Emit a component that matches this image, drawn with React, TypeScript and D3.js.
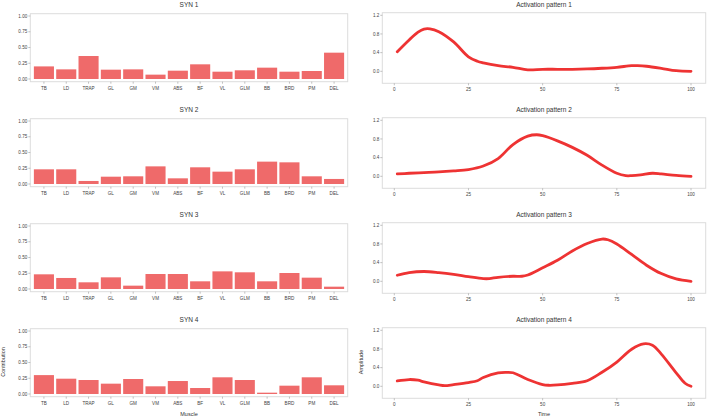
import React from "react";
import * as d3 from "d3";

const muscles = ["TB", "LD", "TRAP", "GL", "GM", "VM", "ABS", "BF", "VL", "GLM", "BB", "BRD", "PM", "DEL"];

const syn1 = [0.2, 0.153, 0.365, 0.148, 0.153, 0.069, 0.132, 0.233, 0.116, 0.138, 0.18, 0.116, 0.127, 0.418];
const syn2 = [0.233, 0.233, 0.048, 0.116, 0.122, 0.28, 0.09, 0.265, 0.196, 0.233, 0.355, 0.344, 0.122, 0.08];
const syn3 = [0.233, 0.175, 0.106, 0.185, 0.053, 0.238, 0.238, 0.122, 0.28, 0.265, 0.122, 0.254, 0.18, 0.037];
const syn4 = [0.3, 0.243, 0.222, 0.164, 0.238, 0.122, 0.206, 0.095, 0.265, 0.222, 0.021, 0.132, 0.265, 0.138];

const t1 = [1, 5, 8, 10, 12, 15, 20, 25, 28, 30, 35, 40, 45, 50, 55, 60, 65, 70, 75, 80, 82, 85, 90, 95, 100];
const act1 = [0.417, 0.67, 0.84, 0.905, 0.91, 0.85, 0.63, 0.31, 0.215, 0.18, 0.12, 0.086, 0.03, 0.043, 0.043, 0.043, 0.05, 0.065, 0.086, 0.12, 0.12, 0.108, 0.065, 0.014, 0.0];

const t2 = [1, 5, 10, 15, 20, 25, 30, 35, 40, 45, 48, 50, 55, 60, 65, 70, 75, 78, 80, 83, 87, 90, 95, 100];
const act2 = [0.05, 0.065, 0.079, 0.093, 0.115, 0.144, 0.22, 0.38, 0.68, 0.86, 0.89, 0.87, 0.76, 0.62, 0.45, 0.24, 0.065, 0.014, 0.014, 0.03, 0.065, 0.05, 0.02, 0.0];

const t3 = [1, 5, 10, 15, 20, 25, 30, 32, 35, 40, 43, 45, 50, 55, 60, 65, 70, 72, 75, 80, 85, 90, 95, 100];
const act3 = [0.13, 0.187, 0.21, 0.187, 0.15, 0.1, 0.057, 0.057, 0.086, 0.108, 0.108, 0.136, 0.29, 0.45, 0.65, 0.81, 0.905, 0.89, 0.8, 0.575, 0.345, 0.165, 0.05, 0.0];

const t4 = [1, 5, 8, 10, 15, 17, 20, 25, 28, 30, 35, 38, 40, 45, 50, 52, 55, 60, 65, 70, 75, 80, 84, 87, 90, 95, 98, 100];
const act4 = [0.115, 0.145, 0.13, 0.094, 0.029, 0.014, 0.036, 0.08, 0.12, 0.19, 0.29, 0.3, 0.29, 0.145, 0.036, 0.022, 0.029, 0.065, 0.12, 0.3, 0.52, 0.795, 0.91, 0.88, 0.69, 0.29, 0.065, 0.0];

const barTicks = [0, 0.25, 0.5, 0.75, 1.0];
const lineYTicks = [0, 0.4, 0.8, 1.2];
const lineXTicks = [0, 25, 50, 75, 100];

const synergies = [syn1, syn2, syn3, syn4];
const times = [t1, t2, t3, t4];
const acts = [act1, act2, act3, act4];

const FONT = "'Liberation Sans', Arial, sans-serif";
const FRAME = "#dcdcdc";
const TEXT = "#333";
const BAR = "#ef6a6a";
const LINE = "#ee3333";
const ROW = 105;

function BarPanel({ values, row, last }: { values: number[]; row: number; last: boolean }) {
  const left = 30.3, right = 347.7;
  const top = 13.7 + row * ROW, bottom = 81.7 + row * ROW;
  const x = d3.scaleBand<string>().domain(muscles).range([left, right]).paddingInner(0.1).paddingOuter(0.16);
  const y = d3.scaleLinear().domain([-0.043, 1.037]).range([bottom, top]);
  return (
    <g>
      <text x={(left + right) / 2} y={7 + row * ROW} textAnchor="middle" fontSize={6.5} fill={TEXT} fontFamily={FONT}>
        {`SYN ${row + 1}`}
      </text>
      {values.map((v, i) => (
        <rect key={i} x={x(muscles[i])} width={x.bandwidth()} y={y(v)} height={y(0) - y(v)} fill={BAR} />
      ))}
      <rect x={left} y={top} width={right - left} height={bottom - top} fill="none" stroke={FRAME} strokeWidth={1} />
      {barTicks.map((t) => (
        <g key={t}>
          <line x1={left - 2} x2={left} y1={y(t)} y2={y(t)} stroke="#999" strokeWidth={0.6} />
          <text x={left - 3} y={y(t) + 1.6} textAnchor="end" fontSize={4.6} fill="#444" fontFamily={FONT}>
            {t.toFixed(2)}
          </text>
        </g>
      ))}
      {muscles.map((m) => {
        const cx = (x(m) as number) + x.bandwidth() / 2;
        return (
          <g key={m}>
            <line x1={cx} x2={cx} y1={bottom} y2={bottom + 2} stroke="#999" strokeWidth={0.6} />
            <text x={cx} y={bottom + 8} textAnchor="middle" fontSize={4.6} fill="#444" fontFamily={FONT}>
              {m}
            </text>
          </g>
        );
      })}
      {last && (
        <>
          <text x={(left + right) / 2} y={416} textAnchor="middle" fontSize={5.5} fill={TEXT} fontFamily={FONT}>
            Muscle
          </text>
          <text
            transform={`translate(5.3,362) rotate(-90)`}
            textAnchor="middle"
            fontSize={5.5}
            fill={TEXT}
            fontFamily={FONT}
          >
            Contribution
          </text>
        </>
      )}
    </g>
  );
}

function LinePanel({ ts, vs, row, last }: { ts: number[]; vs: number[]; row: number; last: boolean }) {
  const left = 382.3, right = 705.7;
  const top = 12.7 + row * ROW, bottom = 83.3 + row * ROW;
  const x = d3.scaleLinear().domain([0, 100]).range([394.3, 691]);
  const y = d3.scaleLinear().domain([0, 1.2]).range([71.3 + row * ROW, 15.3 + row * ROW]);
  const pts = ts.map((t, i) => [t, vs[i]] as [number, number]);
  const path = d3
    .line<[number, number]>()
    .x((d) => x(d[0]))
    .y((d) => y(d[1]))
    .curve(d3.curveCatmullRom.alpha(0.5))(pts);
  return (
    <g>
      <text x={(left + right) / 2} y={7 + row * ROW} textAnchor="middle" fontSize={6.5} fill={TEXT} fontFamily={FONT}>
        {`Activation pattern ${row + 1}`}
      </text>
      <rect x={left} y={top} width={right - left} height={bottom - top} fill="none" stroke={FRAME} strokeWidth={1} />
      <path d={path || ""} fill="none" stroke={LINE} strokeWidth={2.8} strokeLinecap="round" strokeLinejoin="round" />
      {lineYTicks.map((t) => (
        <g key={t}>
          <line x1={left - 2} x2={left} y1={y(t)} y2={y(t)} stroke="#999" strokeWidth={0.6} />
          <text x={left - 3} y={y(t) + 1.6} textAnchor="end" fontSize={4.6} fill="#444" fontFamily={FONT}>
            {t.toFixed(1)}
          </text>
        </g>
      ))}
      {lineXTicks.map((t) => (
        <g key={t}>
          <line x1={x(t)} x2={x(t)} y1={bottom} y2={bottom + 2} stroke="#999" strokeWidth={0.6} />
          <text x={x(t)} y={bottom + 8} textAnchor="middle" fontSize={4.6} fill="#444" fontFamily={FONT}>
            {t}
          </text>
        </g>
      ))}
      {last && (
        <>
          <text x={(left + right) / 2} y={416} textAnchor="middle" fontSize={5.5} fill={TEXT} fontFamily={FONT}>
            Time
          </text>
          <text
            transform={`translate(362.5,362) rotate(-90)`}
            textAnchor="middle"
            fontSize={5.5}
            fill={TEXT}
            fontFamily={FONT}
          >
            Amplitude
          </text>
        </>
      )}
    </g>
  );
}

export default function App() {
  return (
    <svg
      width={708}
      height={418}
      style={{ position: "absolute", left: 0, top: 0, background: "#fff" }}
    >
      <rect x={0} y={0} width={708} height={418} fill="#fff" />
      {synergies.map((s, i) => (
        <BarPanel key={`b${i}`} values={s} row={i} last={i === 3} />
      ))}
      {acts.map((a, i) => (
        <LinePanel key={`l${i}`} ts={times[i]} vs={a} row={i} last={i === 3} />
      ))}
    </svg>
  );
}
